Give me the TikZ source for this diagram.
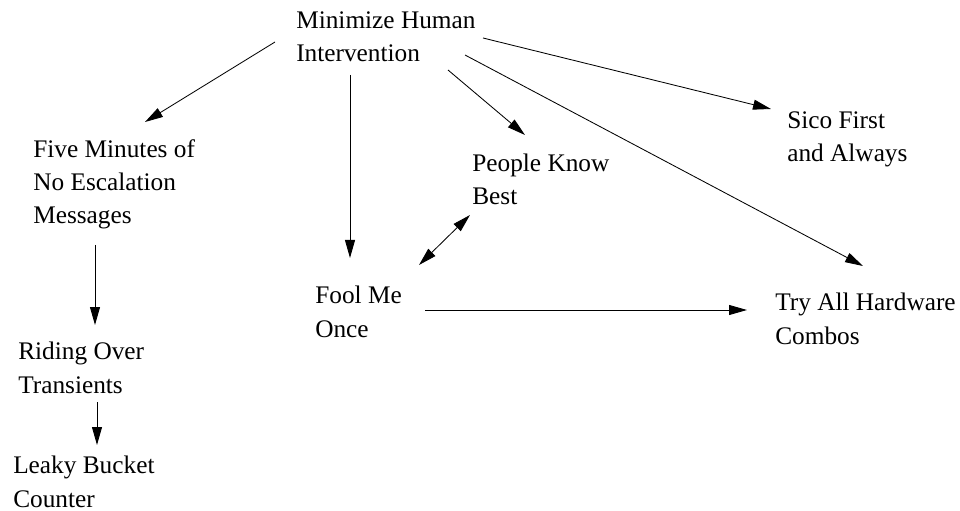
\documentclass[tikz,border=0pt]{standalone}
\usepackage{fontspec}
\setmainfont{Liberation Serif}
\usepackage{tikz}
\usetikzlibrary{arrows.meta}

\begin{document}
\begin{tikzpicture}[x=0.025cm,y=-0.025cm,
	txt/.style={anchor=base west,inner sep=0pt,align=left,font=\fontsize{18}{23.5}\selectfont},
	arr/.style={-{Triangle[length=12.8pt,width=7.1pt]},line width=0.6pt},
	dbl/.style={{Triangle[length=12.8pt,width=7.1pt]}-{Triangle[length=12.8pt,width=7.1pt]},line width=0.6pt}]
	\useasboundingbox (0,0) rectangle (960,511);
	% nodes sit on the baseline of their last line
	\node[txt] (min) at (296,62) {Minimize Human\\Intervention};
	\node[txt] (five) at (33,224) {Five Minutes of\\No Escalation\\Messages};
	\node[txt] (people) at (472,205) {People Know\\Best};
	\node[txt] (sico) at (787,162) {Sico First\\and Always};
	\node[txt] (fool) at (315,337) {Fool Me\\Once};
	\node[txt] (try) at (775,344) {Try All Hardware\\Combos};
	\node[txt] (riding) at (18,393) {Riding Over\\Transients};
	\node[txt] (leaky) at (13,507) {Leaky Bucket\\Counter};
	\draw[arr] ([shift={(-21,-20)}]min.base west) -- ([shift={(112,-102)}]five.base west);
	\draw[arr] ([shift={(54,13)}]min.base west) -- ([shift={(35,-79)}]fool.base west);
	\draw[arr] ([shift={(152,8)}]min.base west) -- ([shift={(53,-70)}]people.base west);
	\draw[arr] ([shift={(187,-24)}]min.base west) -- ([shift={(-16,-53)}]sico.base west);
	\draw[arr] ([shift={(169,-7)}]min.base west) -- ([shift={(88,-78)}]try.base west);
	\draw[dbl] ([shift={(104,-72)}]fool.base west) -- ([shift={(-2,10)}]people.base west);
	\draw[arr] ([shift={(110,-27)}]fool.base west) -- ([shift={(-28,-34)}]try.base west);
	\draw[arr] ([shift={(62,21)}]five.base west) -- ([shift={(77,-68)}]riding.base west);
	\draw[arr] ([shift={(79,9)}]riding.base west) -- ([shift={(84,-62)}]leaky.base west);
\end{tikzpicture}
\end{document}
